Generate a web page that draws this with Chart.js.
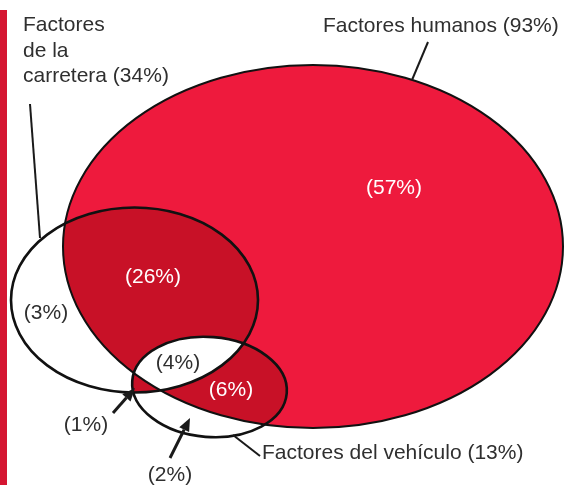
<!DOCTYPE html>
<html>
<head>
<meta charset="utf-8">
<script src="https://cdn.jsdelivr.net/npm/chart.js@4"></script>
<style>
html, body { margin: 0; padding: 0; background: #fff; }
#wrap { width: 565px; height: 485px; }
</style>
</head>
<body>
<div id="wrap"><canvas id="venn"></canvas></div>
<script>
'use strict';
// sets: humans, road, vehicle
const setNames = ['Factores humanos', 'Factores de la carretera', 'Factores del vehículo'];
const setShares = [93, 34, 13];
// ellipses in chart units
const setCx = [313, 134.5, 209.5];
const setCy = [246.5, 300, 387];
const setRx = [250, 123.5, 77.5];
const setRy = [181.5, 92.5, 50];
const setTilt = [0, 0, 0.08];

// the seven regions
const regionShares = [57, 26, 3, 4, 6, 1, 2];
const regionX = [394, 153, 46, 178, 231, 86, 170];
const regionY = [188, 277, 313, 363, 390, 425, 475];
const regionOnRed = [true, true, false, false, true, false, false];

const brightRed = '#ee1a3d';
const darkRed = '#c81127';
const barRed = '#d51632';
const textGrey = '#2f2f2f';

function ellipsePath(ctx, chart, i) {
    let xs = chart.scales.x;
    let ys = chart.scales.y;
    let px = xs.getPixelForValue(setCx[i]);
    let py = ys.getPixelForValue(setCy[i]);
    let rx = Math.abs(xs.getPixelForValue(setCx[i] + setRx[i]) - px);
    let ry = Math.abs(ys.getPixelForValue(setCy[i] + setRy[i]) - py);
    ctx.beginPath();
    ctx.ellipse(px, py, rx, ry, setTilt[i], 0, Math.PI * 2);
}

// fill i, only inside all of clips
function fillInside(ctx, chart, i, clips, color) {
    ctx.save();
    for (let c of clips) {
        ellipsePath(ctx, chart, c);
        ctx.clip();
    }
    ellipsePath(ctx, chart, i);
    ctx.fillStyle = color;
    ctx.fill();
    ctx.restore();
}

function line(ctx, x1, y1, x2, y2, w) {
    ctx.beginPath();
    ctx.moveTo(x1, y1);
    ctx.lineTo(x2, y2);
    ctx.lineWidth = w;
    ctx.strokeStyle = '#1a1a1a';
    ctx.stroke();
}

function arrow(ctx, x1, y1, x2, y2) {
    let a = Math.atan2(y2 - y1, x2 - x1);
    let len = 13, half = 5.5;
    let bx = x2 - len * Math.cos(a), by = y2 - len * Math.sin(a);
    line(ctx, x1, y1, bx, by, 3);
    ctx.beginPath();
    ctx.moveTo(x2, y2);
    ctx.lineTo(bx + half * Math.sin(a), by - half * Math.cos(a));
    ctx.lineTo(bx - half * Math.sin(a), by + half * Math.cos(a));
    ctx.closePath();
    ctx.fillStyle = '#1a1a1a';
    ctx.fill();
}

const vennPlugin = {
    id: 'venn',
    beforeDatasetsDraw(chart) {
        let ctx = chart.ctx;
        let xs = chart.scales.x, ys = chart.scales.y;
        // side bar
        ctx.fillStyle = barRed;
        ctx.fillRect(0, ys.getPixelForValue(10), 7, ys.getPixelForValue(485) - ys.getPixelForValue(10));

        // road & vehicle overlap, then humans on top
        fillInside(ctx, chart, 2, [1], darkRed);
        fillInside(ctx, chart, 0, [], brightRed);
        fillInside(ctx, chart, 1, [0], darkRed);
        fillInside(ctx, chart, 2, [0], darkRed);
        fillInside(ctx, chart, 2, [0, 1], '#ffffff');

        // outlines
        ellipsePath(ctx, chart, 0);
        ctx.lineWidth = 2;
        ctx.strokeStyle = '#111';
        ctx.stroke();
        for (let i = 1; i < 3; i++) {
            ellipsePath(ctx, chart, i);
            ctx.lineWidth = 2.6;
            ctx.strokeStyle = '#111';
            ctx.stroke();
        }

        // leader lines
        line(ctx, 428, 42, 412, 80, 2);
        line(ctx, 30, 104, 40, 238, 2);
        line(ctx, 233, 435, 260, 456, 2);
        arrow(ctx, 113, 413, 135, 388);
        arrow(ctx, 170, 458, 190, 418);
    },
    afterDatasetsDraw(chart) {
        let ctx = chart.ctx;
        ctx.save();
        ctx.font = '21px "Liberation Sans", Arial, sans-serif';
        ctx.fillStyle = textGrey;
        ctx.textAlign = 'left';
        ctx.textBaseline = 'alphabetic';
        ctx.fillText(setNames[0] + ' (' + setShares[0] + '%)', 323, 32);
        ctx.fillText('Factores', 23, 31);
        ctx.fillText('de la', 23, 57);
        ctx.fillText('carretera (' + setShares[1] + '%)', 23, 82);
        ctx.fillText(setNames[2] + ' (' + setShares[2] + '%)', 262, 459);

        let meta = chart.getDatasetMeta(0);
        ctx.textAlign = 'center';
        ctx.textBaseline = 'middle';
        meta.data.forEach(function (pt, i) {
            ctx.fillStyle = regionOnRed[i] ? '#ffffff' : textGrey;
            ctx.fillText('(' + regionShares[i] + '%)', pt.x, pt.y);
        });
        ctx.restore();
    }
};

let points = [];
for (let i = 0; i < regionShares.length; i++) {
    points.push({ x: regionX[i], y: regionY[i] });
}

new Chart(document.getElementById('venn'), {
    type: 'scatter',
    data: {
        datasets: [{
            data: points,
            pointRadius: 0,
            pointHoverRadius: 0
        }]
    },
    options: {
        responsive: true,
        maintainAspectRatio: false,
        animation: false,
        layout: { padding: 0 },
        plugins: { legend: { display: false }, tooltip: { enabled: false } },
        scales: {
            x: { type: 'linear', min: 0, max: 565, display: false },
            y: { type: 'linear', min: 0, max: 485, reverse: true, display: false }
        }
    },
    plugins: [vennPlugin]
});
</script>
</body>
</html>
